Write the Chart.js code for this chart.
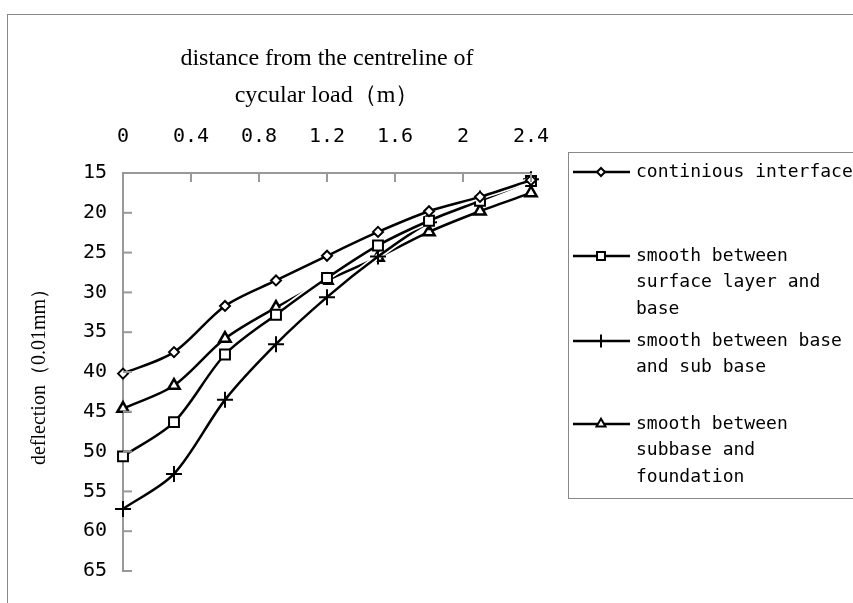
<!DOCTYPE html>
<html>
<head>
<meta charset="utf-8">
<script src="https://cdn.jsdelivr.net/npm/chart.js@4"></script>
<style>
  html, body { margin: 0; padding: 0; background: #fff; }
  #wrap { width: 853px; height: 603px; }
</style>
</head>
<body>
<div id="wrap"><canvas id="deflChart" width="853" height="603"></canvas></div>
<script>
// Deflection vs distance from load centreline

const distance = [0, 0.3, 0.6, 0.9, 1.2, 1.5, 1.8, 2.1, 2.4];
const continuous = [40.2, 37.5, 31.7, 28.5, 25.4, 22.4, 19.8, 18.0, 15.9];
const smoothSurfaceBase = [50.6, 46.3, 37.8, 32.8, 28.2, 24.1, 21.0, 18.5, 16.0];
const smoothBaseSubbase = [57.2, 52.8, 43.5, 36.5, 30.6, 25.5, 21.2, 18.2, 15.8];
const smoothSubbaseFound = [44.6, 41.7, 35.8, 31.9, 28.5, 25.6, 22.4, 19.8, 17.5];
const xTicks = [0, 0.4, 0.8, 1.2, 1.6, 2, 2.4];
const yTicks = [15, 20, 25, 30, 35, 40, 45, 50, 55, 60, 65];

const seriesLabels = [
    ['continious interface'],
    ['smooth between', 'surface layer and', 'base'],
    ['smooth between base', 'and sub base'],
    ['smooth between', 'subbase and', 'foundation']
];
const seriesData = [continuous, smoothSurfaceBase, smoothBaseSubbase, smoothSubbaseFound];
const markers = [
    { style: 'rectRot', r: 5 },
    { style: 'rect', r: 7 },
    { style: 'cross', r: 8 },
    { style: 'triangle', r: 6.5 }
];

const monoFont = '"DejaVu Sans Mono", monospace';
const serifFont = '"Liberation Serif", "DejaVu Serif", serif';

function pts(values) {
    return values.map((v, i) => ({ x: distance[i], y: v }));
}

// each series gets a white halo underneath, like the original spreadsheet chart
const datasets = [];
seriesData.forEach((vals, i) => {
    datasets.push({
        label: seriesLabels[i].join(' '),
        data: pts(vals),
        borderColor: '#000',
        borderWidth: 2.5,
        tension: 0.3,
        clip: false,
        pointStyle: markers[i].style,
        pointRadius: markers[i].r,
        pointBorderWidth: markers[i].style === 'triangle' ? 2.5 : 2,
        pointBorderColor: '#000',
        pointBackgroundColor: '#fff',
        order: i * 2
    });
    datasets.push({
        label: 'halo',
        data: pts(vals),
        borderColor: '#fff',
        borderWidth: 6,
        tension: 0.3,
        clip: false,
        pointRadius: 0,
        order: i * 2 + 1
    });
});

// frame, inner tick marks and the boxed legend
const decorations = {
    id: 'decorations',
    beforeDraw(chart) {
        const ctx = chart.ctx;
        ctx.save();
        ctx.fillStyle = '#fff';
        ctx.fillRect(0, 0, chart.width, chart.height);
        ctx.strokeStyle = '#888';
        ctx.lineWidth = 1;
        ctx.strokeRect(7.5, 14.5, 1000, 1000);
        ctx.restore();
    },
    afterDraw(chart) {
        const ctx = chart.ctx;
        const xs = chart.scales.x, ys = chart.scales.y;
        const area = chart.chartArea;
        ctx.save();
        ctx.strokeStyle = '#999';
        ctx.lineWidth = 2;
        xTicks.forEach(t => {
            if (t === 0) return;
            const px = xs.getPixelForValue(t);
            ctx.beginPath();
            ctx.moveTo(px, area.top);
            ctx.lineTo(px, area.top + 9);
            ctx.stroke();
        });
        yTicks.forEach(t => {
            if (t === 15) return;
            const py = ys.getPixelForValue(t);
            ctx.beginPath();
            ctx.moveTo(area.left, py);
            ctx.lineTo(area.left + 9, py);
            ctx.stroke();
        });

        // legend box
        ctx.strokeStyle = '#888';
        ctx.lineWidth = 1;
        ctx.strokeRect(568.5, 152.5, 400, 346);
        const rows = [172, 256, 341, 424];
        ctx.font = '18px ' + monoFont;
        ctx.textBaseline = 'middle';
        seriesLabels.forEach((lines, i) => {
            const y = rows[i];
            ctx.strokeStyle = '#000';
            ctx.lineWidth = 2.5;
            ctx.beginPath();
            ctx.moveTo(573, y);
            ctx.lineTo(630, y);
            ctx.stroke();
            const ds = chart.data.datasets[i * 2];
            ctx.fillStyle = '#fff';
            ctx.lineWidth = 2;
            Chart.helpers.drawPoint(ctx, {
                pointStyle: ds.pointStyle,
                radius: ds.pointRadius * 0.8,
                borderWidth: 2
            }, 601, y);
            ctx.fillStyle = '#000';
            lines.forEach((ln, k) => ctx.fillText(ln, 636, y + k * 26.5));
        });
        ctx.restore();
    }
};

const ctx = document.getElementById('deflChart').getContext('2d');
new Chart(ctx, {
    type: 'line',
    data: { datasets: datasets },
    options: {
        responsive: false,
        animation: false,
        devicePixelRatio: 1,
        layout: { padding: { left: 8, top: 14, right: 322, bottom: 32 } },
        plugins: {
            legend: { display: false },
            tooltip: { enabled: false }
        },
        scales: {
            x: {
                type: 'linear',
                position: 'top',
                min: 0,
                max: 2.4,
                afterBuildTicks: s => { s.ticks = xTicks.map(v => ({ value: v })); },
                afterFit: s => { s.height = 159; },
                grid: { color: 'transparent', drawTicks: false },
                border: { color: '#999', width: 2 },
                ticks: {
                    color: '#000',
                    padding: 24,
                    maxRotation: 0,
                    font: { family: monoFont, size: 20 },
                    callback: v => String(v)
                },
                title: {
                    display: true,
                    text: ['distance from the centreline of', 'cycular load（m）'],
                    color: '#000',
                    font: { family: serifFont, size: 24, lineHeight: 1.55 },
                    padding: { top: 26, bottom: 4 }
                }
            },
            y: {
                reverse: true,
                min: 15,
                max: 65,
                afterBuildTicks: s => { s.ticks = yTicks.map(v => ({ value: v })); },
                afterFit: s => { s.width = 115; },
                grid: { color: 'transparent', drawTicks: false },
                border: { color: '#999', width: 2 },
                ticks: {
                    color: '#000',
                    padding: 16,
                    font: { family: monoFont, size: 20 }
                },
                title: {
                    display: true,
                    text: 'deflection（0.01mm）',
                    color: '#000',
                    font: { family: serifFont, size: 20 },
                    padding: { top: 20, bottom: 0 }
                }
            }
        }
    },
    plugins: [decorations]
});
</script>
</body>
</html>
